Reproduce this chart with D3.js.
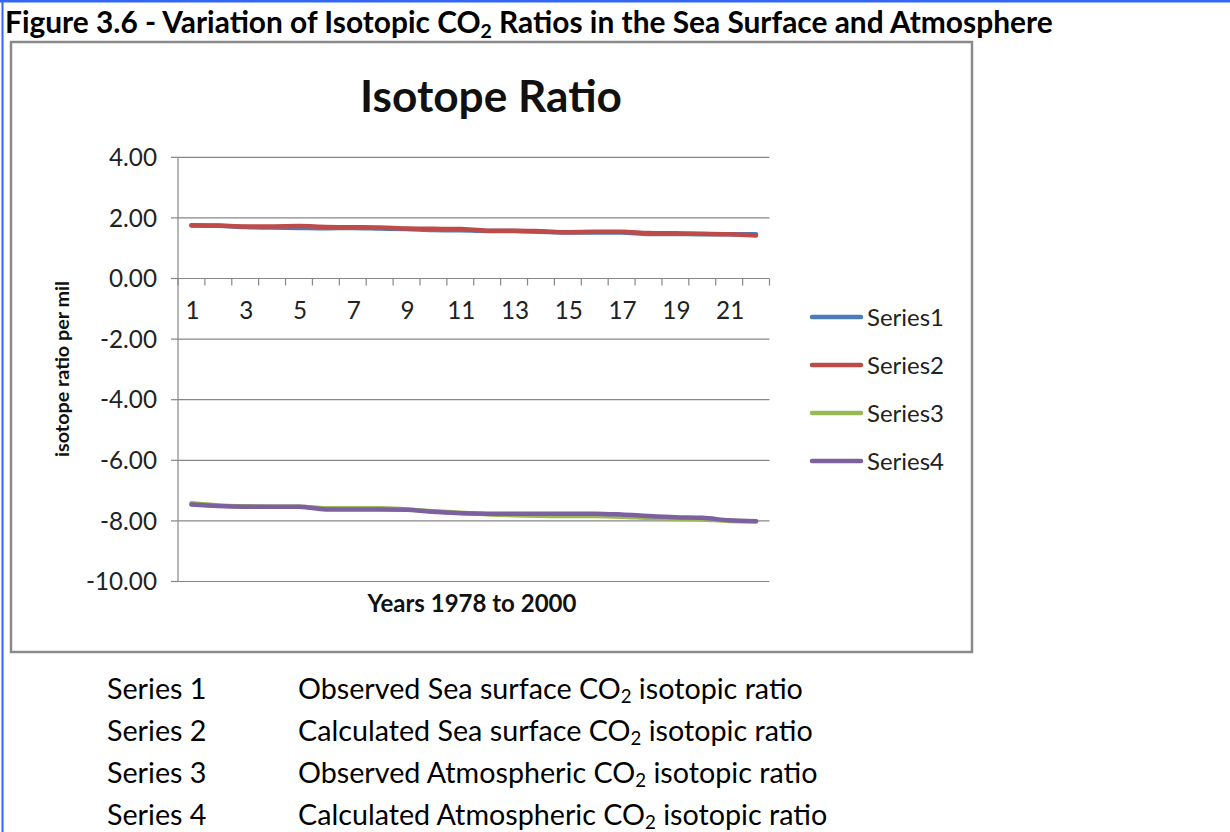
<!DOCTYPE html>
<html><head><meta charset="utf-8">
<script src="https://cdn.jsdelivr.net/npm/d3@7/dist/d3.min.js"></script>
<style>body{margin:0;background:#fff;} svg{display:block;}</style>
</head><body>
<svg id="c" width="1230" height="832"></svg>
<script>
const categories = d3.range(1, 23);
const xTickLabels = [1,3,5,7,9,11,13,15,17,19,21];
const yTicks = [4,2,0,-2,-4,-6,-8,-10];
const series1 = [1.75,1.74,1.70,1.68,1.67,1.66,1.67,1.65,1.63,1.60,1.59,1.57,1.57,1.54,1.52,1.52,1.52,1.47,1.47,1.46,1.46,1.46];
const series2 = [1.76,1.75,1.72,1.72,1.73,1.70,1.69,1.68,1.65,1.64,1.63,1.58,1.58,1.56,1.53,1.54,1.54,1.50,1.49,1.48,1.46,1.42];
const series3 = [-7.42,-7.49,-7.52,-7.53,-7.53,-7.58,-7.58,-7.58,-7.62,-7.68,-7.73,-7.78,-7.81,-7.83,-7.84,-7.84,-7.86,-7.90,-7.93,-7.95,-8.00,-8.01];
const series4 = [-7.46,-7.51,-7.53,-7.53,-7.53,-7.62,-7.62,-7.62,-7.63,-7.70,-7.75,-7.76,-7.76,-7.76,-7.76,-7.76,-7.79,-7.84,-7.88,-7.90,-7.98,-8.01];
const seriesNames = ["Series1","Series2","Series3","Series4"];
const seriesColors = ["#4A7EBB","#BE4B48","#98B954","#7D60A0"];
const notes = [
  ["Series 1","Observed Sea surface CO","2"," isotopic ratio"],
  ["Series 2","Calculated Sea surface CO","2"," isotopic ratio"],
  ["Series 3","Observed Atmospheric CO","2"," isotopic ratio"],
  ["Series 4","Calculated Atmospheric CO","2"," isotopic ratio"]
];
const allSeries = [series1, series2, series3, series4];

const FONT = "Lato, 'Open Sans', sans-serif";
const svg = d3.select("#c").style("font-family", FONT);

function fitSize(sel, w) {
  const fs = parseFloat(sel.attr("font-size"));
  return fs * w / sel.node().getComputedTextLength();
}
function fit(sel, w) { sel.attr("font-size", fitSize(sel, w)); }

// page blue border
svg.append("rect").attr("x",0).attr("y",0).attr("width",1230).attr("height",2.5).attr("fill","#3366f5");
svg.append("rect").attr("x",1.5).attr("y",0).attr("width",2).attr("height",832).attr("fill","#3366f5");

// header
const hdr = svg.append("text").attr("x",5).attr("y",33).attr("font-size",24).attr("font-weight","bold").attr("fill","#000");
hdr.append("tspan").text("Figure 3.6 - Variation of Isotopic CO");
hdr.append("tspan").attr("font-size","0.65em").attr("dy",5).text("2");
hdr.append("tspan").attr("dy",-5).text(" Ratios in the Sea Surface and Atmosphere");
fit(hdr, 1048);

// chart box
svg.append("rect").attr("x",11).attr("y",42).attr("width",961).attr("height",610)
  .attr("fill","#fff").attr("stroke","#8a8a8a").attr("stroke-width",2.5);

const L = 178, R = 769.5;
const y = d3.scaleLinear().domain([-10, 4]).range([581.5, 157.3]);
const x = d3.scaleBand().domain(categories).range([L, R]);
const cx = d => x(d) + x.bandwidth()/2;

// gridlines
svg.append("g").selectAll("line").data(yTicks).join("line")
  .attr("x1", L).attr("x2", R).attr("y1", d=>y(d)).attr("y2", d=>y(d))
  .attr("stroke","#878787").attr("stroke-width",1.2);

// y axis
svg.append("line").attr("x1",L).attr("x2",L).attr("y1",y(4)).attr("y2",y(-10)).attr("stroke","#878787").attr("stroke-width",1.2);
svg.append("g").selectAll("line").data(yTicks).join("line")
  .attr("x1", L-7).attr("x2", L).attr("y1", d=>y(d)).attr("y2", d=>y(d))
  .attr("stroke","#878787").attr("stroke-width",1.2);
const yl = svg.append("g").selectAll("text").data(yTicks).join("text")
  .attr("x", 157).attr("y", d=>y(d)).attr("dy","0.36em").attr("text-anchor","end")
  .attr("font-size",20).attr("fill","#222").text(d=>d3.format(".2f")(d).replace("−","-"));
const tickFs = fitSize(d3.select(yl.nodes()[0]), 48);
yl.attr("font-size", tickFs);

// x axis ticks at zero line
const bounds = d3.range(0, categories.length+1).map(i => L + i*x.step());
svg.append("g").selectAll("line").data(bounds).join("line")
  .attr("x1", d=>d).attr("x2", d=>d).attr("y1", y(0)).attr("y2", y(0)+7)
  .attr("stroke","#878787").attr("stroke-width",1.2);
svg.append("g").selectAll("text").data(xTickLabels).join("text")
  .attr("x", d=>cx(d)+1).attr("y", y(0)+32).attr("dy","0.36em").attr("text-anchor","middle")
  .attr("font-size",tickFs).attr("fill","#222").text(d=>d);

// lines
const line = d3.line().x((d,i)=>cx(categories[i])).y(d=>y(d)).curve(d3.curveMonotoneX);
svg.append("g").selectAll("path").data(allSeries).join("path")
  .attr("d", line).attr("fill","none").attr("stroke",(d,i)=>seriesColors[i])
  .attr("stroke-width",4.5).attr("stroke-linecap","round").attr("stroke-linejoin","round");

// title
const t = svg.append("text").attr("x",491).attr("y",112).attr("text-anchor","middle")
  .attr("font-size",40).attr("font-weight","bold").attr("fill","#111").text("Isotope Ratio");
fit(t, 262);

// axis titles
const yt = svg.append("text").attr("transform","translate(69,369) rotate(-90)").attr("text-anchor","middle")
  .attr("font-size",18).attr("font-weight","bold").attr("fill","#111").text("isotope ratio per mil");
fit(yt, 176);
const xt = svg.append("text").attr("x",472).attr("y",612).attr("text-anchor","middle")
  .attr("font-size",18).attr("font-weight","bold").attr("fill","#111").text("Years 1978 to 2000");
fit(xt, 209);

// legend
const lg = svg.append("g").selectAll("g").data(seriesNames).join("g")
  .attr("transform",(d,i)=>`translate(0,${317 + i*48})`);
lg.append("line").attr("x1",812).attr("x2",861).attr("stroke",(d,i)=>seriesColors[i])
  .attr("stroke-width",4.5).attr("stroke-linecap","round");
const lt = lg.append("text").attr("x",867).attr("dy","0.36em").attr("font-size",20).attr("fill","#222").text(d=>d);
lt.attr("font-size", fitSize(d3.select(lt.nodes()[0]), 77));

// notes
const noteRows = notes.map((n,i) => {
  const yy = 699 + i*42;
  const a = svg.append("text").attr("x",107).attr("y",yy).attr("font-size",24).attr("fill","#000").text(n[0]);
  const tt = svg.append("text").attr("x",298).attr("y",yy).attr("font-size",24).attr("fill","#000");
  tt.append("tspan").text(n[1]);
  tt.append("tspan").attr("font-size","0.65em").attr("dy",4).text(n[2]);
  tt.append("tspan").attr("dy",-4).text(n[3]);
  return [a, tt];
});
const nfs = (fitSize(noteRows[0][0], 98) + fitSize(noteRows[0][1], 513)) / 2;
noteRows.forEach(([a, tt]) => { a.attr("font-size", nfs); tt.attr("font-size", nfs); });
</script>
</body></html>
